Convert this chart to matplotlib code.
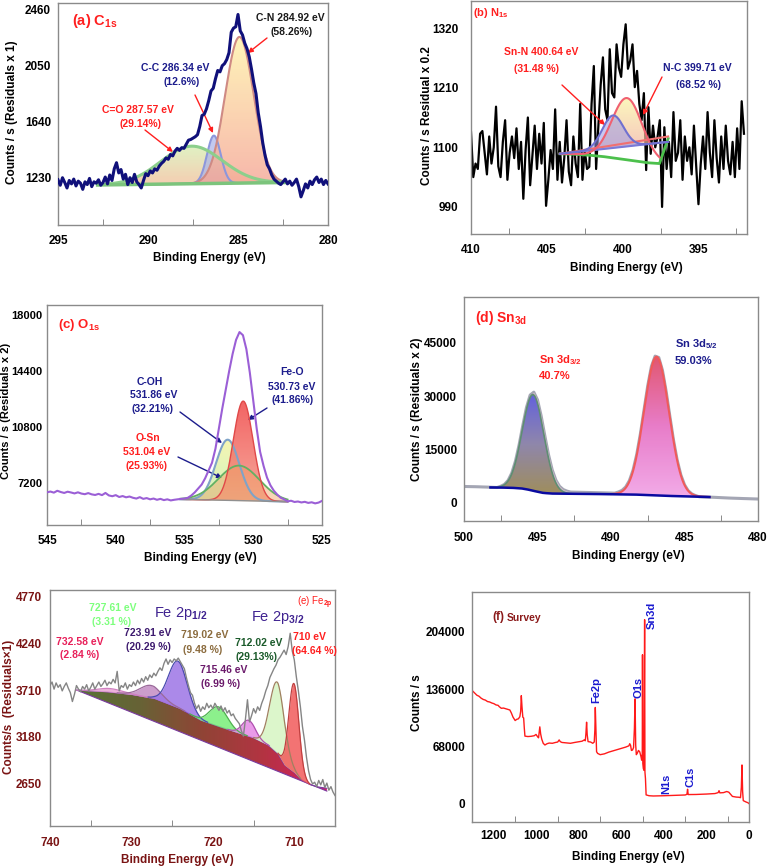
import numpy as np
import matplotlib
matplotlib.use("Agg")
import matplotlib.pyplot as plt
from matplotlib.colors import LinearSegmentedColormap
from matplotlib.patches import Polygon

plt.rcParams['font.family'] = ['Liberation Sans', 'DejaVu Sans']
plt.rcParams['font.weight'] = 'bold'
plt.rcParams['mathtext.fontset'] = 'custom'
plt.rcParams['mathtext.rm'] = 'Liberation Sans:bold'
plt.rcParams['mathtext.it'] = 'Liberation Sans:bold'
plt.rcParams['mathtext.bf'] = 'Liberation Sans:bold'

# ===================== DATA =====================
# (a) C1s
C1S_RANGE = (295.0, 280.0)
C1S_COUNTS = [1210, 1170, 1225, 1190, 1150, 1205, 1180, 1215, 1165, 1200, 1185, 1140, 1195, 1175, 1220, 1160,
              1195, 1185, 1210, 1170, 1190, 1230, 1180, 1245, 1205, 1290, 1335, 1260, 1285, 1215, 1250, 1175,
              1225, 1190, 1250, 1195, 1175, 1150, 1205, 1255, 1240, 1275, 1260, 1290, 1280, 1310, 1330, 1345,
              1370, 1360, 1395, 1385, 1420, 1440, 1425, 1445, 1440, 1470, 1500, 1505, 1515, 1525, 1540, 1600,
              1680, 1690, 1730, 1790, 1860, 1880, 1950, 2010, 2000, 2045, 2060, 2090, 2140, 2290, 2320, 2330,
              2420, 2300, 2270, 2210, 2170, 2110, 2020, 1920, 1840, 1700, 1600, 1480, 1390, 1320, 1290, 1245,
              1215, 1200, 1185, 1175, 1195, 1215, 1180, 1200, 1170, 1190, 1215, 1160, 1085, 1130, 1180, 1150,
              1200, 1175, 1210, 1230, 1190, 1215, 1175, 1205, 1180]
C1S_CENTERS = [287.57, 286.34, 284.92]      # C=O, C-C, C-N
C1S_HEIGHTS = [275, 350, 1070]
C1S_SIGMAS = [1.7, 0.38, 0.79]
C1S_BG_EV = [292.8, 282.4]
C1S_BG = [1172, 1190]

# (b) N1s
N1S_RANGE = (410.0, 392.0)
N1S_COUNTS = [1128, 1045, 1070, 1060, 1125, 1130, 1090, 1050, 1120, 1070, 1100, 1175, 1065, 1045, 1110, 1150,
              1040, 1090, 1120, 1080, 1135, 1060, 1110, 1005, 1095, 1155, 1030, 1085, 1140, 1060, 1125, 1070,
              1145, 992, 1040, 1095, 1060, 1170, 1040,
              1110, 1035, 1080, 1150, 1055, 1030, 1120, 1070, 1045, 1180, 1040, 1095, 1060,
              1064, 1180, 1250, 1060, 1140, 1215, 1266, 1170, 1150, 1281, 1200, 1192, 1290, 1247, 1230, 1290,
              1327, 1245, 1260, 1290, 1211, 1241, 1180, 1150, 1200, 1058, 1174, 1088, 1140, 1100, 1119, 1150,
              990, 1137,
              1060, 1110, 1045, 1165, 1075, 1090, 1150, 1040, 1120, 1075, 1100, 1050, 1140, 1065, 995, 1070,
              1120, 1060, 1165, 1090, 1045, 1150, 1080, 1035, 1120, 1060, 1140, 1075, 1050, 1110, 1045, 1135,
              1060, 1185, 1125]
N1S_CENTERS = [400.64, 399.71]              # Sn-N, N-C
N1S_HEIGHTS = [60, 114]
N1S_SIGMAS = [0.7, 1.0]
N1S_BG_EV = [404.14, 403.0, 402.0, 401.0, 400.0, 399.0, 398.2, 397.57, 397.0]
N1S_BG = [1088, 1087, 1085, 1082, 1078, 1074, 1071, 1070, 1116]
N1S_LINE_EV = [404.14, 397.0]
N1S_LINE_BLUE = [1088, 1110]
N1S_LINE_RED = [1088, 1120]

# (c) O1s
O1S_RANGE = (545.0, 525.0)
O1S_COUNTS = [6600, 6650, 6580, 6700, 6620, 6560, 6640, 6590, 6530, 6600, 6520, 6480, 6550, 6470, 6430, 6500,
              6420, 6560, 6400, 6350, 6420, 6300, 6360, 6280, 6330, 6250, 6200, 6290, 6180, 6230, 6150, 6200,
              6120, 6180, 6100, 6150, 6080, 6120, 6150, 6180, 6200, 6250, 6400, 6600, 6850, 7100, 7500, 8000,
              8500, 9400, 10700, 12000, 13200, 14400, 15500, 16400, 16900, 16700, 15800, 14300, 12500, 10700,
              9200, 8300, 7550, 7050, 6700, 6450, 6250, 6150, 6020, 6060, 5980, 6010, 5950, 5990, 5920, 5960,
              5890, 5940, 6050]
O1S_CENTERS = [531.86, 531.04, 530.73]      # C-OH, O-Sn, Fe-O
O1S_HEIGHTS = [3900, 2250, 6400]
O1S_SIGMAS = [0.85, 1.5, 0.72]
O1S_BG_EV = [535.3, 527.5]
O1S_BG = [6150, 6000]

# (d) Sn3d
SN_RANGE = (500.0, 480.0)
SN_COUNTS = [4650, 4620, 4600, 4580, 4550, 4510, 4480, 4440, 4400, 4360, 4700, 5225, 6350, 8430, 11770, 16390,
             21790, 26870, 30340, 31150, 28980, 24460, 18870, 13570, 9320, 6425, 4690, 3785, 3350, 3075, 3050,
             3025, 3000, 2975, 2950, 2925, 2900, 2875, 2850, 2825, 2800, 2760, 3090, 3550, 4510, 6280, 9240,
             13640, 19460, 26240, 32980, 38410, 41280, 40890, 37320, 31430, 24490, 17740, 12105, 7910, 5130,
             3460, 2555, 2090, 1750, 1710, 1675, 1640, 1600, 1550, 1500, 1450, 1400, 1360, 1325, 1290, 1250,
             1220, 1185, 1150, 1120]
SN_CENTERS = [495.3, 486.9]                 # 3d3/2, 3d5/2
SN_HEIGHTS = [27000, 39000]
SN_SIGMAS = [0.74, 0.85]
SN_BG_EV = [498.2, 497.0, 496.5, 496.0, 495.5, 495.0, 494.6, 494.0, 492.0, 490.0, 488.0, 486.7, 485.0, 483.3]
SN_BG = [4370, 4300, 4220, 4050, 3650, 3150, 2820, 2650, 2550, 2480, 2330, 2080, 1850, 1680]

# (e) Fe2p
FE_RANGE = (740.0, 705.0)
FE_COUNTS = [3760, 3800, 3720, 3790, 3740, 3770, 3700, 3750, 3790, 3730,
             3680, 3580, 3660, 3760, 3720, 3690, 3750, 3720, 3770, 3700,
             3740, 3790, 3720, 3760, 3800, 3750, 3780, 3820, 3760, 3800,
             3780, 3830, 3790, 3920, 3700, 3760, 3740, 3790, 3720, 3770,
             3750, 3800, 3760, 3820, 3780, 3840, 3800, 3860, 3820, 3880,
             3850, 3900, 3870, 3920, 3960, 3930, 4010, 4060, 4000, 4050,
             4020, 4060, 4040, 4070, 4030, 3990, 3950, 3850, 3760, 3680,
             3650, 3560, 3500, 3540, 3470, 3520, 3490, 3560, 3510, 3540,
             3500, 3560, 3520, 3480, 3530, 3470, 3510, 3450, 3480, 3420,
             3440, 3390, 3360, 3330, 3250, 3190, 3380, 3600, 3350, 3420,
             3500, 3450, 3520, 3480, 3560, 3620, 3700, 3760, 3850, 3900,
             3950, 3990, 4050, 4080, 4120, 4160, 4110, 4200, 4350, 4150,
             4050, 3860, 3700, 3520, 3300, 3145, 2950, 2800, 2700, 2650,
             2670, 2620, 2690, 2640, 2700, 2610, 2660, 2580, 2620, 2560, 2520]
FE_CENTERS = [732.58, 727.61, 724.3, 719.3, 715.6, 712.1, 710.05]
FE_HEIGHTS = [40, 140, 525, 220, 180, 800, 1000]
FE_SIGMAS = [1.5, 1.3, 1.15, 1.1, 0.8, 0.9, 0.62]
FE_BG_EV = [736.7, 733.0, 730.0, 727.2, 724.0, 721.5, 719.0, 717.3, 715.0, 713.2, 712.0, 711.2, 710.0,
            709.1, 708.0, 707.0, 706.0]
FE_BG = [3708, 3690, 3660, 3615, 3500, 3370, 3290, 3239, 3170, 3089, 2990, 2864, 2780, 2695, 2640, 2615, 2601]
FE_LINE_EV = [736.7, 706.0]
FE_LINE = [3708, 2570]

# (f) Survey
SURVEY_EV = [1300, 1290, 1280, 1270, 1260, 1250, 1240, 1230, 1220, 1210, 1200, 1190, 1180, 1175, 1165, 1155,
             1145, 1135, 1125, 1118, 1110, 1100, 1092, 1085, 1078, 1074, 1071, 1068, 1064, 1060, 1057, 1054,
             1040, 1025, 1010, 1002, 995, 990, 987, 984, 980, 975, 968, 960, 950, 940, 925, 910, 900, 893,
             888, 880, 860, 840, 820, 800, 785, 775, 770, 767, 764, 761, 757, 745, 735, 728, 725, 723, 720,
             717, 712, 700, 680, 660, 640, 620, 600, 580, 565, 561, 557, 553, 548, 543, 539, 536, 533, 530,
             526, 520, 514, 508, 505, 502, 501, 499.5, 497, 494, 491, 489.5, 487, 484, 470, 450, 400, 350,
             300, 292, 289, 286, 250, 200, 160, 145, 141, 137, 120, 105, 95, 85, 78, 60, 47, 40, 36, 33, 30,
             27, 15, 5, 0]
SURVEY_CPS = [134000, 131500, 129000, 127800, 125500, 124000, 123200, 121500, 121000, 119800, 119000, 117500,
              117000, 115500, 113500, 113800, 113000, 112300, 111500, 108000, 103000, 99000, 100500, 101000,
              103500, 110000, 128500, 116000, 103000, 102000, 90000, 80500, 80000, 80300, 81000, 82500, 80000,
              78500, 85000, 91500, 83000, 77000, 72000, 70000, 71500, 72300, 72000, 73000, 73500, 76000, 74000,
              73000, 72500, 72000, 73000, 73800, 74500, 76000, 75000, 84000, 97000, 82000, 74000, 73500, 72000,
              73500, 88000, 114500, 90000, 62000, 60000, 58500, 59500, 61500, 63000, 64500, 66000, 67500, 69000,
              71500, 69500, 63500, 64000, 67000, 90000, 124700, 70000, 58500, 60000, 63500, 61900, 56000,
              52000, 60000, 177000, 48000, 42000, 40000, 218600, 38000, 30000, 10800, 9800, 9500, 9800, 10300,
              10700, 11500, 17500, 11200, 11300, 11800, 12400, 13500, 15800, 13200, 13500, 14800, 14000, 11000,
              9000, 8200, 8000, 7500, 20000, 46300, 15000, 4000, 2500, 1500, 500]
SURVEY_LABELS = ["Fe2p", "O1s", "Sn3d", "N1s", "C1s"]

# ===================== HELPERS =====================
W, H = 770, 868
fig = plt.figure(figsize=(W / 100, H / 100), dpi=100)
fig.patch.set_facecolor('white')
RECTS = {}


def add_ax(l, t, r, b):
    ax = fig.add_axes([l / W, 1 - b / H, (r - l) / W, (b - t) / H])
    RECTS[ax] = (l, t, r, b)
    return ax


def gauss(x, c, h, s):
    return h * np.exp(-0.5 * ((x - c) / s) ** 2)


def interp(x, xp, fp):
    xp = np.asarray(xp, float)
    fp = np.asarray(fp, float)
    o = np.argsort(xp)
    return np.interp(x, xp[o], fp[o])


def grad_fill(ax, x, ylo, yhi, colors, alpha=1.0, z=2, horizontal=False):
    x = np.asarray(x)
    ylo = np.asarray(ylo)
    yhi = np.asarray(yhi)
    verts = np.concatenate([np.column_stack([x, yhi]), np.column_stack([x[::-1], ylo[::-1]])])
    poly = Polygon(verts, closed=True, facecolor='none', edgecolor='none', transform=ax.transData)
    ax.add_patch(poly)
    cmap = LinearSegmentedColormap.from_list('g', colors)
    if horizontal:
        grad = np.linspace(0, 1, 256)[None, :]
    else:
        grad = np.linspace(0, 1, 256)[:, None]
    y0 = min(ylo.min(), yhi.min())
    y1 = max(ylo.max(), yhi.max())
    im = ax.imshow(grad, extent=(x.min(), x.max(), y0, y1), origin='lower', aspect='auto',
                   cmap=cmap, alpha=alpha, zorder=z, interpolation='bilinear')
    im.set_clip_path(poly)


def style(ax, xlim, ylim, xticks, yticks, xminor, tcolor='black', tsize=8.5, xpad=7, ypad=5):
    ax.set_xlim(*xlim)
    ax.set_ylim(*ylim)
    ax.set_xticks(xticks)
    ax.set_yticks(yticks)
    ax.set_xticks(xminor, minor=True)
    ax.tick_params(axis='x', which='major', length=0, pad=xpad, labelsize=tsize, labelcolor=tcolor)
    ax.tick_params(axis='x', which='minor', direction='in', length=4, color='#777777')
    ax.tick_params(axis='y', which='major', length=0, pad=ypad, labelsize=tsize, labelcolor=tcolor)
    for s in ax.spines.values():
        s.set_color('#8a8a8a')
        s.set_linewidth(1.0)


def labels(ax, xlab, xpos, ylab, ypos, color='black', size=8.5, ysize=None):
    l, t, r, b = RECTS[ax]
    ax.set_xlabel(xlab, fontsize=size, color=color, fontweight='bold')
    ax.xaxis.set_label_coords((xpos[0] - l) / (r - l), (b - xpos[1]) / (b - t))
    ax.xaxis.label.set_va('center')
    ax.set_ylabel(ylab, fontsize=ysize or size, color=color, fontweight='bold')
    ax.yaxis.set_label_coords((ypos[0] - l) / (r - l), (b - ypos[1]) / (b - t))
    ax.yaxis.label.set_va('center')
    ax.yaxis.label.set_ha('center')


def ftext(px, py, s, color, size=7.5, ha='center', weight='bold', **kw):
    fig.text(px / W, 1 - py / H, s, color=color, fontsize=size, ha=ha, va='center', fontweight=weight, **kw)


def farrow(ax, p0, p1, color):
    ax.annotate('', xy=(p1[0] / W, 1 - p1[1] / H), xycoords='figure fraction',
                xytext=(p0[0] / W, 1 - p0[1] / H), textcoords='figure fraction',
                arrowprops=dict(arrowstyle='-|>', color=color, lw=1.0, mutation_scale=7,
                                shrinkA=0, shrinkB=0))


RED = '#ff1f1f'
NAVY = '#1c1c8c'

# ===================== (a) C1s =====================
axA = add_ax(58, 3, 328, 225)
ev = np.linspace(*C1S_RANGE, len(C1S_COUNTS))
xf = np.linspace(min(C1S_BG_EV), max(C1S_BG_EV), 400)
bg = interp(xf, C1S_BG_EV, C1S_BG)
comp = [bg + gauss(xf, c, h, s) for c, h, s in zip(C1S_CENTERS, C1S_HEIGHTS, C1S_SIGMAS)]
grad_fill(axA, xf, bg, comp[0], ['#f3c19e', '#d9efb5'], alpha=0.8, z=2)
axA.fill_between(xf, bg, comp[1], color='#a9b2ea', alpha=0.7, zorder=3, lw=0)
grad_fill(axA, xf, bg, comp[2], ['#f6a596', '#fff2a8'], alpha=0.8, z=4)
axA.plot(xf, comp[1], color='#8c96dc', lw=1.5, zorder=5)
axA.plot(xf, comp[2], color='#cf8a84', lw=1.5, zorder=5)
axA.plot(xf, comp[0], color='#8ccf8c', lw=2.2, zorder=5)
axA.plot(xf, bg, color='#7cc47c', lw=2.5, zorder=5)
axA.plot(ev, C1S_COUNTS, color='#10107a', lw=2.2, zorder=6)
style(axA, (295, 280), (879, 2504), [295, 290, 285, 280], [1230, 1640, 2050, 2460],
      [292.5, 287.5, 282.5], xpad=7, ypad=5)
labels(axA, 'Binding Energy (eV)', (209, 258), 'Counts / s (Residuals x 1)', (12, 112))
ftext(72, 21, r'(a) C$_{\mathbf{1s}}$', RED, size=10.5, ha='left')
ftext(290, 18, 'C-N 284.92 eV', '#1a1a1a')
ftext(292, 32, '(58.26%)', '#1a1a1a')
ftext(175, 68, 'C-C 286.34 eV', NAVY)
ftext(182, 82, '(12.6%)', NAVY)
ftext(138, 110, 'C=O 287.57 eV', RED)
ftext(141, 124, '(29.14%)', RED)
farrow(axA, (267, 38), (248, 53), RED)
farrow(axA, (195, 95), (213, 133), RED)
farrow(axA, (145, 130), (173, 152), RED)

# ===================== (b) N1s =====================
axB = add_ax(471, 1, 747, 234)
ev = np.linspace(*N1S_RANGE, len(N1S_COUNTS))
xf = np.linspace(min(N1S_BG_EV), max(N1S_BG_EV), 400)
green = interp(xf, N1S_BG_EV, N1S_BG)
bline = interp(xf, N1S_LINE_EV, N1S_LINE_BLUE)
rline = interp(xf, N1S_LINE_EV, N1S_LINE_RED)
bpeak = bline + gauss(xf, N1S_CENTERS[0], N1S_HEIGHTS[0], N1S_SIGMAS[0])
rpeak = green + gauss(xf, N1S_CENTERS[1], N1S_HEIGHTS[1], N1S_SIGMAS[1])
mr = xf >= 397.57
m = mr & (rpeak > bline)
axB.plot(ev, N1S_COUNTS, color='black', lw=1.6, zorder=2)
grad_fill(axB, xf[m], bline[m], rpeak[m], ['#f0a8a0', '#fbf3a0'], alpha=0.7, z=3)
axB.fill_between(xf, bline, bpeak, where=bpeak > bline + 0.5, color='#9a9ae6', alpha=0.55, zorder=4, lw=0)
axB.plot(xf, green, color='#4cc04c', lw=2, zorder=5)
axB.plot(xf, rline, color='#f07070', lw=1.5, zorder=5)
axB.plot(xf, bline, color='#7a7ad8', lw=1.5, zorder=5)
axB.plot(xf[mr], rpeak[mr], color='#f06070', lw=1.5, zorder=6)
axB.plot(xf, bpeak, color='#7070d0', lw=1.5, zorder=6)
style(axB, (410, 391.8), (940, 1370), [410, 405, 400, 395], [990, 1100, 1210, 1320],
      [407.5, 402.5, 397.5, 392.5], xpad=7, ypad=9)
labels(axB, 'Binding Energy (eV)', (626, 268), 'Counts / s Residual x 0.2', (427, 116))
ftext(473, 13, r'(b) N$_{\mathbf{1s}}$', RED, size=8, ha='left')
ftext(541, 52, 'Sn-N 400.64 eV', RED)
ftext(537, 69, '(31.48 %)', RED)
ftext(697, 68, 'N-C 399.71 eV', NAVY)
ftext(698, 85, '(68.52 %)', NAVY)
farrow(axB, (562, 85), (605, 125), RED)
farrow(axB, (662, 77), (643, 115), RED)

# ===================== (c) O1s =====================
axC = add_ax(47, 305, 322, 525)
ev = np.linspace(*O1S_RANGE, len(O1S_COUNTS))
xf = np.linspace(min(O1S_BG_EV), max(O1S_BG_EV), 400)
bg = interp(xf, O1S_BG_EV, O1S_BG)
comp = [bg + gauss(xf, c, h, s) for c, h, s in zip(O1S_CENTERS, O1S_HEIGHTS, O1S_SIGMAS)]
grad_fill(axC, xf, bg, comp[0], ['#c5efb5', '#f5f5a5'], alpha=0.85, z=2)
grad_fill(axC, xf, bg, comp[2], ['#f59a8a', '#f04848'], alpha=0.85, z=3)
axC.fill_between(xf, bg, comp[1], color='#f0a060', alpha=0.45, zorder=4, lw=0)
axC.plot(xf, comp[0], color='#7fa3c8', lw=1.5, zorder=5)
axC.plot(xf, comp[1], color='#62b062', lw=1.3, zorder=5)
axC.plot(xf, comp[2], color='#e04848', lw=1.0, zorder=5)
axC.plot(xf, bg, color='#909090', lw=1.0, zorder=5)
axC.plot(ev, O1S_COUNTS, color='#9b5fd6', lw=1.5, zorder=6)
style(axC, (545, 525), (4500, 18640), [545, 540, 535, 530, 525], [7200, 10800, 14400, 18000],
      [542.5, 537.5, 532.5, 527.5], tsize=8, xpad=7, ypad=3)
axC.tick_params(axis='x', labelsize=8.5)
labels(axC, 'Binding Energy (eV)', (200, 558), 'Counts / s (Residuals x 2)', (6.5, 411), ysize=8)
ftext(58, 325, r'(c) O$_{\mathbf{1s}}$', RED, size=9.5, ha='left')
ftext(150, 382, 'C-OH', NAVY)
ftext(154, 395, '531.86 eV', NAVY)
ftext(152, 409, '(32.21%)', NAVY)
ftext(148, 438, 'O-Sn', RED)
ftext(147, 452, '531.04 eV', RED)
ftext(147, 466, '(25.93%)', RED)
ftext(292, 372, 'Fe-O', NAVY)
ftext(292, 387, '530.73 eV', NAVY)
ftext(293, 400, '(41.86%)', NAVY)
farrow(axC, (180, 412), (222, 443), NAVY)
farrow(axC, (178, 457), (222, 478), NAVY)
farrow(axC, (267, 408), (248, 420), NAVY)

# ===================== (d) Sn3d =====================
axD = add_ax(464, 297, 758, 521)
ev = np.linspace(*SN_RANGE, len(SN_COUNTS))
xf = np.linspace(min(SN_BG_EV), max(SN_BG_EV), 500)
bg = interp(xf, SN_BG_EV, SN_BG)
raw_i = np.interp(xf, ev[::-1], np.asarray(SN_COUNTS, float)[::-1])
axD.plot(ev, SN_COUNTS, color='#a4a6b4', lw=2.2, zorder=2)
axD.fill_between(xf, bg, np.maximum(raw_i, bg), color='#f3c8dc', alpha=0.6, zorder=2.5, lw=0)
p1 = bg + gauss(xf, SN_CENTERS[0], SN_HEIGHTS[0], SN_SIGMAS[0])
p2 = bg + gauss(xf, SN_CENTERS[1], SN_HEIGHTS[1], SN_SIGMAS[1])
m1 = xf >= 492.0
m2 = xf <= 490.0
grad_fill(axD, xf[m1], bg[m1], p1[m1], ['#9a8a55', '#8a82a8', '#5b5bdc'], alpha=0.95, z=3)
grad_fill(axD, xf[m2], bg[m2], p2[m2], ['#f2a8e8', '#e878c8', '#e0506a'], alpha=0.95, z=3)
axD.plot(xf[m1], p1[m1], color='#5e8e72', lw=1.2, zorder=4)
axD.plot(xf[m2], p2[m2], color='#f05a5a', lw=1.5, zorder=4)
axD.plot(xf, bg, color='#0a0aa0', lw=1.8, zorder=5)
style(axD, (500, 480), (-5060, 57900), [500, 495, 490, 485, 480], [0, 15000, 30000, 45000],
      [497.5, 492.5, 487.5, 482.5], xpad=8, ypad=5)
labels(axD, 'Binding Energy (eV)', (628, 556), 'Counts / s (Residuals x 2)', (417, 409))
ftext(475, 318, r'(d) Sn$_{\mathbf{3d}}$', RED, size=10, ha='left')
ftext(539, 360, r'Sn 3d$_{\mathbf{3/2}}$', RED, size=8, ha='left')
ftext(539, 376, '40.7%', RED, size=8, ha='left')
ftext(675, 344, r'Sn 3d$_{\mathbf{5/2}}$', NAVY, size=8, ha='left')
ftext(675, 361, '59.03%', NAVY, size=8, ha='left')

# ===================== (e) Fe2p =====================
axE = add_ax(50, 590, 335, 826)
ev = np.linspace(*FE_RANGE, len(FE_COUNTS))
xf = np.linspace(min(FE_BG_EV), max(FE_BG_EV), 600)
bg = interp(xf, FE_BG_EV, FE_BG)
line = interp(xf, FE_LINE_EV, FE_LINE)
grad_fill(axE, xf, line, bg, ['#d6105c', '#b02838', '#8a3a2a', '#5f5a2a', '#4f6b2a'], alpha=0.95, z=2,
          horizontal=True)
axE.plot(xf, bg, color='#7a3aa0', lw=0.8, zorder=3)
axE.plot(xf, line, color='#7a3aa0', lw=0.8, zorder=3)
FE_FILL = ['#eaa6d6', '#c48cc4', '#9d74e6', '#78ee78', '#e68ae6', '#d6f5c2', '#f25a5a']
FE_EDGE = ['#d080c0', '#9a6a9a', '#4a4ab0', '#50b050', '#b050b0', '#a08060', '#c04040']
for c, h, s, fc, ec in zip(FE_CENTERS, FE_HEIGHTS, FE_SIGMAS, FE_FILL, FE_EDGE):
    yk = bg + gauss(xf, c, h, s)
    mk = np.abs(xf - c) < 3.2 * s
    axE.fill_between(xf[mk], bg[mk], yk[mk], color=fc, alpha=0.85, zorder=4, lw=0)
    axE.plot(xf[mk], yk[mk], color=ec, lw=0.9, zorder=5)
axE.plot(ev, FE_COUNTS, color='#858585', lw=1.0, zorder=6)
ECOL = '#7a1414'
style(axE, (740, 705), (2176, 4838), [740, 730, 720, 710], [2650, 3180, 3710, 4240, 4770],
      [735, 725, 715], tcolor=ECOL, tsize=8.5, xpad=8, ypad=6)
labels(axE, 'Binding Energy (eV)', (177, 860), 'Counts/s  (Residuals\u00d71)', (9, 707), color=ECOL)
ftext(113, 608, '727.61 eV', '#7dff7d')
ftext(112, 622, '(3.31 %)', '#7dff7d')
ftext(181, 613, r'Fe 2p$_{1/2}$', '#3f2290', size=10.5, weight='normal')
ftext(278, 617, r'Fe 2p$_{3/2}$', '#3f2290', size=10.5, weight='normal')
ftext(315, 603, r'(e) Fe$_{2p}$', RED, size=7, weight='normal')
ftext(80, 642, '732.58 eV', '#e8205a')
ftext(80, 655, '(2.84 %)', '#e8205a')
ftext(148, 633, '723.91 eV', '#3d1a6e')
ftext(148, 647, '(20.29 %)', '#3d1a6e')
ftext(205, 635, '719.02 eV', '#8b6b3d')
ftext(203, 650, '(9.48 %)', '#8b6b3d')
ftext(224, 670, '715.46 eV', '#6b1a6b')
ftext(221, 684, '(6.99 %)', '#6b1a6b')
ftext(259, 643, '712.02 eV', '#1a5a2a')
ftext(257, 657, '(29.13%)', '#1a5a2a')
ftext(309, 637, '710 eV', RED)
ftext(314, 651, '(64.64 %)', RED)

# ===================== (f) Survey =====================
axF = add_ax(472, 592, 749, 822)
axF.plot(SURVEY_EV, SURVEY_CPS, color='#ff1a1a', lw=1.0)
style(axF, (1303, 0), (-21350, 251440), [1200, 1000, 800, 600, 400, 200, 0], [0, 68000, 136000, 204000],
      [1100, 900, 700, 500, 300, 100], xpad=6, ypad=5)
labels(axF, 'Binding Energy (eV)', (628, 857), 'Counts / s', (417, 703))
ftext(492, 617, '(f)', '#8b1a1a', size=8.5, ha='left')
ftext(507, 618, 'Survey', '#8b1a1a', size=7.5, ha='left')
SURVEY_LABEL_POS = [(596, 690), (638, 687), (652, 615), (666, 784), (690, 777)]
for lab, (px, py) in zip(SURVEY_LABELS, SURVEY_LABEL_POS):
    ftext(px, py, lab, '#1a1ad0', size=8, rotation=90)

fig.savefig('out.png', dpi=100)
